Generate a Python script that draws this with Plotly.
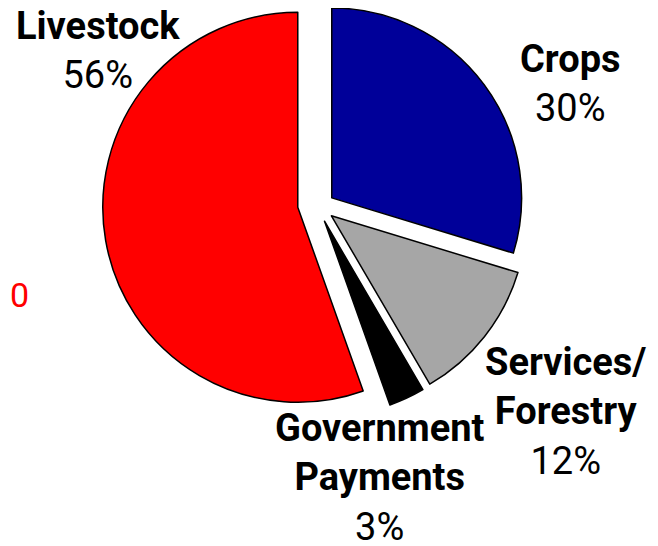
import math
import plotly.graph_objects as go

# the page puts the figure 8 px in from the top-left corner
OFF = 8
W, H = 650, 538

sources = ["Crops", "Services/Forestry", "Government Payments", "Livestock"]
shares = [30, 12, 3, 56]
colors = ["#000099", "#A6A6A6", "#000000", "#FF0000"]

label_texts = ["<b>Crops</b><br>30%",
               "<b>Services/</b><br><b>Forestry</b><br>12%",
               "<b>Government</b><br><b>Payments</b><br>3%",
               "<b>Livestock</b><br>56%"]
label_pos = [(570, 83), (565, 411), (380, 477), (98, 51)]

FONT = "Roboto, Liberation Sans, Arial, sans-serif"


def px_x(x):
    return (x - OFF) / W


def px_y(y):
    return 1 - (y - OFF) / H


# pie centre, radius and the gap each slice is pulled out by (screen px)
cx, cy, r, gap = 316.5, 204, 195, 19

fig = go.Figure()
total = sum(shares)
start = 0
for i, name in enumerate(sources):
    mid = (start + shares[i] / 2) / total * 2 * math.pi
    start += shares[i]
    sx = cx + gap * math.sin(mid)
    sy = cy - gap * math.cos(mid)
    rad = r
    # keep the top slice inside the page
    if sy - rad < OFF:
        rad = (sy + rad - OFF) / 2
        sy = OFF + rad
    fill = [c if j == i else "rgba(0,0,0,0)" for j, c in enumerate(colors)]
    edge = ["black" if j == i else "rgba(0,0,0,0)" for j in range(len(colors))]
    fig.add_trace(
        go.Pie(
            labels=sources,
            values=shares,
            name=name,
            sort=False,
            direction="clockwise",
            rotation=0,
            textinfo="none",
            hoverinfo="skip",
            marker=dict(colors=fill, line=dict(color=edge, width=1.5)),
            domain=dict(x=[px_x(sx - rad), px_x(sx + rad)],
                        y=[px_y(sy + rad), px_y(sy - rad)]),
            showlegend=False,
        )
    )

for text, (x, y) in zip(label_texts, label_pos):
    fig.add_annotation(
        x=px_x(x), y=px_y(y), xref="paper", yref="paper",
        text=text, showarrow=False, xanchor="center", yanchor="middle",
        font=dict(family=FONT, size=38, color="black"),
    )

# cut-off value at the left edge
fig.add_annotation(
    x=0, y=px_y(295), xref="paper", yref="paper",
    text="0", showarrow=False, xanchor="left", yanchor="middle",
    font=dict(family=FONT, size=34, color="#FF0000"),
)

fig.update_layout(
    width=W, height=H,
    margin=dict(l=0, r=0, t=0, b=0),
    paper_bgcolor="white",
    plot_bgcolor="white",
    font=dict(family=FONT),
)

fig.write_html("out.html")
